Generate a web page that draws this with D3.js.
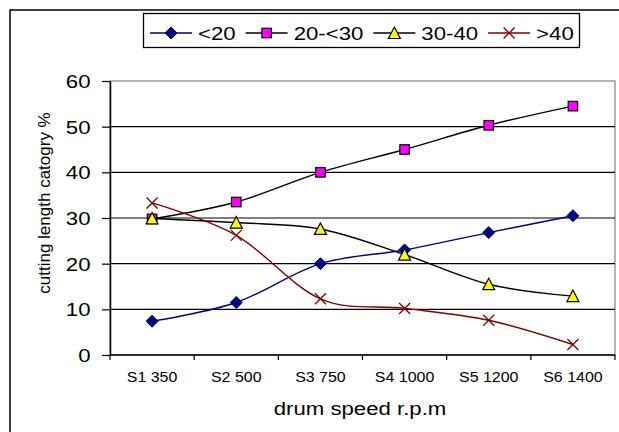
<!DOCTYPE html>
<html>
<head>
<meta charset="utf-8">
<script src="https://cdn.jsdelivr.net/npm/d3@7"></script>
<style>
  body { margin: 0; background: #fff; }
  svg { display: block; font-family: "Liberation Sans", Arial, sans-serif; }
</style>
</head>
<body>
<svg id="chart" width="619" height="432"></svg>
<script>
const categories = ["S1 350", "S2 500", "S3 750", "S4 1000", "S5 1200", "S6 1400"];
const seriesNames = ["<20", "20-<30", "30-40", ">40"];
const under20 = [7.4, 11.5, 20.0, 23.0, 26.8, 30.5];
const from20to30 = [29.8, 33.5, 40.0, 45.0, 50.3, 54.5];
const from30to40 = [29.9, 29.0, 27.6, 22.0, 15.5, 12.9];
const over40 = [33.3, 26.2, 12.3, 10.2, 7.6, 2.3];
const yTicks = [0, 10, 20, 30, 40, 50, 60];

const series = [
  { name: seriesNames[0], values: under20, line: "#000080", marker: "diamond", fill: "#000080", stroke: "#000080" },
  { name: seriesNames[1], values: from20to30, line: "#000000", marker: "square", fill: "#ff00ff", stroke: "#000000" },
  { name: seriesNames[2], values: from30to40, line: "#000000", marker: "triangle", fill: "#ffff00", stroke: "#000000" },
  { name: seriesNames[3], values: over40, line: "#800000", marker: "cross", fill: "none", stroke: "#800000" }
];

const svg = d3.select("#chart");
const plot = { left: 110, right: 615, top: 81, bottom: 355 };

const x = d3.scaleBand().domain(categories).range([plot.left, plot.right]).padding(0);
const y = d3.scaleLinear().domain([0, 60]).range([plot.bottom, plot.top]);

// outer chart frame (runs off the right/bottom edge)
svg.append("rect")
  .attr("x", 10).attr("y", 10).attr("width", 700).attr("height", 500)
  .attr("fill", "#fff").attr("stroke", "#000").attr("stroke-width", 1.5);

// plot area border
svg.append("rect")
  .attr("x", plot.left).attr("y", plot.top)
  .attr("width", plot.right - plot.left).attr("height", plot.bottom - plot.top)
  .attr("fill", "#fff").attr("stroke", "#808080").attr("stroke-width", 1.2);

// gridlines
svg.append("g").selectAll("line")
  .data(yTicks.filter(d => d > 0 && d < 60))
  .join("line")
  .attr("x1", plot.left).attr("x2", plot.right)
  .attr("y1", d => y(d)).attr("y2", d => y(d))
  .attr("stroke", "#000").attr("stroke-width", 1.2);

// y axis
const ySx = 1.2;
const yAxis = svg.append("g")
  .attr("transform", `translate(${plot.left},0)`)
  .call(d3.axisLeft(y).tickValues(yTicks).tickSize(8).tickSizeOuter(0));
yAxis.select(".domain").attr("stroke", "#000").attr("stroke-width", 1.5);
yAxis.selectAll(".tick line").attr("stroke", "#000").attr("stroke-width", 1.2);
yAxis.selectAll(".tick text")
  .attr("font-size", 18.5).attr("fill", "#000")
  .attr("x", -19.5 / ySx).attr("dy", "0.36em")
  .attr("transform", `scale(${ySx},1)`);

// x axis: labels at band centres, ticks on band edges
const xAxis = svg.append("g")
  .attr("transform", `translate(0,${plot.bottom})`);
xAxis.append("line")
  .attr("x1", plot.left).attr("x2", plot.right)
  .attr("stroke", "#000").attr("stroke-width", 1.5);
xAxis.selectAll(".edge")
  .data(categories.map(c => x(c)).concat([x.range()[1]]))
  .join("line")
  .attr("class", "edge")
  .attr("x1", d => d).attr("x2", d => d)
  .attr("y1", 0).attr("y2", 5)
  .attr("stroke", "#000").attr("stroke-width", 1.2);
xAxis.selectAll(".lbl")
  .data(categories)
  .join("text")
  .attr("class", "lbl")
  .attr("text-anchor", "middle")
  .attr("font-size", 15.5)
  .attr("transform", d => `translate(${x(d) + x.bandwidth() / 2},26.5) scale(1.03,1)`)
  .text(d => d);

// axis titles
svg.append("text")
  .attr("text-anchor", "middle")
  .attr("font-size", 18.5)
  .attr("transform", "translate(360,415) scale(1.2,1)")
  .text("drum speed r.p.m");

svg.append("text")
  .attr("text-anchor", "middle")
  .attr("font-size", 17)
  .attr("transform", "translate(50,203) rotate(-90)")
  .text("cutting length catogry %");

// markers
const drawMarker = (sel, type, fill, stroke) => {
  if (type === "diamond") {
    sel.append("path").attr("d", "M0,-6L6,0L0,6L-6,0Z")
      .attr("fill", fill).attr("stroke", stroke);
  } else if (type === "square") {
    sel.append("rect").attr("x", -4.75).attr("y", -4.75).attr("width", 9.5).attr("height", 9.5)
      .attr("fill", fill).attr("stroke", stroke).attr("stroke-width", 1.2);
  } else if (type === "triangle") {
    sel.append("path").attr("d", "M0,-6L6,5.5L-6,5.5Z")
      .attr("fill", fill).attr("stroke", stroke).attr("stroke-width", 1.2);
  } else {
    sel.append("path").attr("d", "M-5.5,-5.5L5.5,5.5M-5.5,5.5L5.5,-5.5")
      .attr("fill", "none").attr("stroke", stroke).attr("stroke-width", 1.3);
  }
};

const line = d3.line()
  .x((d, i) => x(categories[i]) + x.bandwidth() / 2)
  .y(d => y(d))
  .curve(d3.curveCatmullRom.alpha(0));

const seriesG = svg.append("g").selectAll("g")
  .data(series)
  .join("g");

seriesG.append("path")
  .attr("d", d => line(d.values))
  .attr("fill", "none")
  .attr("stroke", d => d.line)
  .attr("stroke-width", 1.4);

seriesG.each(function (s) {
  d3.select(this).selectAll("g.pt")
    .data(s.values)
    .join("g")
    .attr("class", "pt")
    .attr("transform", (d, i) => `translate(${x(categories[i]) + x.bandwidth() / 2},${y(d)})`)
    .each(function () { drawMarker(d3.select(this), s.marker, s.fill, s.stroke); });
});

// legend
const legend = svg.append("g");
legend.append("rect")
  .attr("x", 143.5).attr("y", 13.5).attr("width", 436).attr("height", 34)
  .attr("fill", "#fff").attr("stroke", "#000").attr("stroke-width", 1.3);

let lx = 150;
const legendSx = 1.2;
series.forEach(s => {
  const item = legend.append("g");
  item.append("line")
    .attr("x1", lx).attr("x2", lx + 42)
    .attr("y1", 33).attr("y2", 33)
    .attr("stroke", s.line).attr("stroke-width", 1.4);
  drawMarker(item.append("g").attr("transform", `translate(${lx + 21},33)`), s.marker, s.fill, s.stroke);
  const t = item.append("text")
    .attr("font-size", 18.5)
    .attr("transform", `translate(${lx + 48},39.5) scale(${legendSx},1)`)
    .text(s.name);
  lx = lx + 48 + t.node().getComputedTextLength() * legendSx + 10;
});
</script>
</body>
</html>
